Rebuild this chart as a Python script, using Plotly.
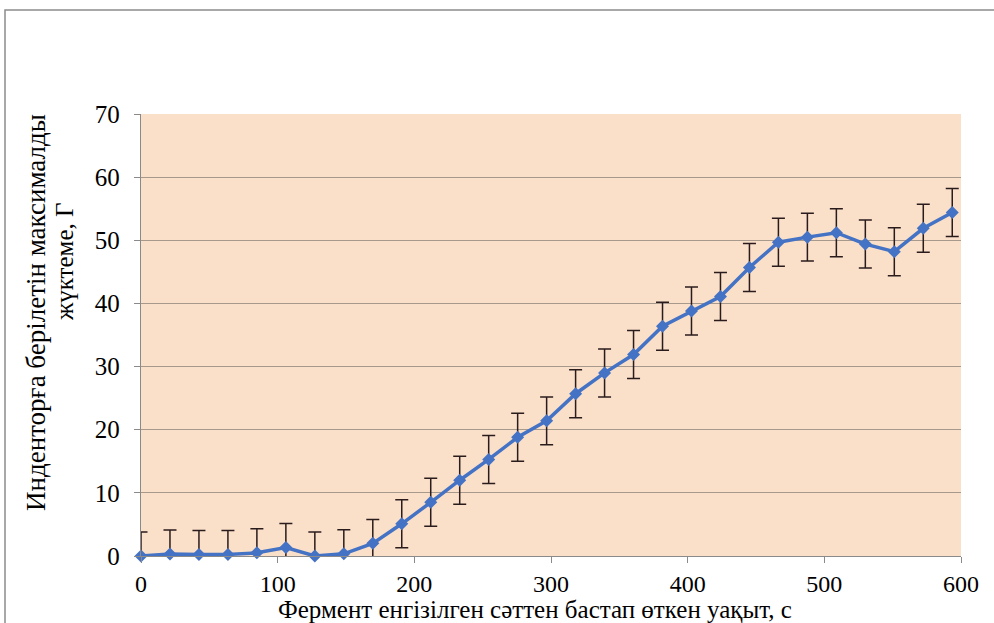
import plotly.graph_objects as go

# Data
time_s = [0, 21.2, 42.4, 63.6, 84.8, 106.0, 127.2, 148.4, 169.6, 190.8,
          212.0, 233.2, 254.4, 275.6, 296.8, 318.0, 339.2, 360.4, 381.6, 402.8,
          424.0, 445.2, 466.4, 487.6, 508.8, 530.0, 551.2, 572.4, 593.6]
load_g = [0.0, 0.3, 0.25, 0.25, 0.5, 1.35, 0.0, 0.35, 2.0, 5.1,
          8.5, 12.0, 15.3, 18.8, 21.4, 25.7, 29.0, 31.9, 36.4, 38.8,
          41.1, 45.7, 49.7, 50.5, 51.2, 49.4, 48.2, 51.9, 54.4]
load_err = [3.8] * len(load_g)

x_ticks = [0, 100, 200, 300, 400, 500, 600]
y_ticks = [0, 10, 20, 30, 40, 50, 60, 70]

x_title = "Фермент енгізілген сәттен бастап өткен уақыт, с"
y_title_1 = "Индентоpға берілетін максималды"
y_title_2 = "жүктеме, Г"

FONT = "Liberation Serif, Times New Roman, serif"
BLUE = "#4472C4"

W, H = 994, 623
PX0, PX1, PY0, PY1 = 141, 961, 114, 556
L, T, R, B = PX0, PY0, W - PX1, H - PY1
pw, ph = PX1 - PX0, PY1 - PY0


def px_x(p):
    return (p - PX0) / pw


def px_y(p):
    return (PY1 - p) / ph


fig = go.Figure()

# error bars (clipped to plot area)
fig.add_trace(go.Scatter(
    x=time_s, y=load_g, mode="markers",
    marker=dict(size=1, opacity=0),
    error_y=dict(type="data", array=load_err, visible=True,
                 color="#2a1c1c", thickness=1.5, width=6.5),
    cliponaxis=True, hoverinfo="skip", showlegend=False,
))

# line with diamond markers
fig.add_trace(go.Scatter(
    x=time_s, y=load_g, mode="lines+markers",
    line=dict(color=BLUE, width=3.5),
    marker=dict(symbol="diamond", size=10, color=BLUE),
    cliponaxis=False, showlegend=False,
))

axis_common = dict(
    zeroline=False, showline=True, linecolor="#8a8a8a", linewidth=1.3,
    ticks="outside", ticklen=6, tickcolor="#8a8a8a", tickwidth=1.3,
    fixedrange=True,
)

fig.update_layout(
    width=W, height=H,
    margin=dict(l=L, r=R, t=T, b=B, pad=0),
    paper_bgcolor="white",
    plot_bgcolor="#FADFC9",
    font=dict(family=FONT, size=24, color="black"),
    showlegend=False,
    xaxis=dict(range=[0, 600], tickvals=x_ticks,
               ticktext=[str(v) for v in x_ticks], showgrid=False,
               ticklabelstandoff=0,
               tickfont=dict(family=FONT, size=24, color="black"),
               **axis_common),
    yaxis=dict(range=[0, 70], tickvals=y_ticks,
               ticktext=[str(v) for v in y_ticks], showgrid=True,
               gridcolor="#a8998d", gridwidth=1.4,
               ticklabelstandoff=9,
               tickfont=dict(family=FONT, size=25, color="black"),
               **axis_common),
    annotations=[
        dict(text=x_title, xref="paper", yref="paper",
             x=px_x(535), y=px_y(609), xanchor="center", yanchor="middle",
             showarrow=False, font=dict(family=FONT, size=25, color="black")),
        dict(text=y_title_1, xref="paper", yref="paper",
             x=px_x(36), y=px_y(313), xanchor="center", yanchor="middle",
             textangle=-90, showarrow=False,
             font=dict(family=FONT, size=27, color="black")),
        dict(text=y_title_2, xref="paper", yref="paper",
             x=px_x(64), y=px_y(262), xanchor="center", yanchor="middle",
             textangle=-90, showarrow=False,
             font=dict(family=FONT, size=25, color="black")),
    ],
    shapes=[
        dict(type="rect", xref="paper", yref="paper",
             x0=px_x(5), y0=px_y(640), x1=px_x(1010), y1=px_y(10),
             line=dict(color="#8c8c8c", width=1.5), fillcolor="rgba(0,0,0,0)",
             layer="below"),
    ],
)

fig.write_html("out.html", config={"displayModeBar": False},
               post_script="document.body.style.margin='0';document.body.style.padding='0';")
